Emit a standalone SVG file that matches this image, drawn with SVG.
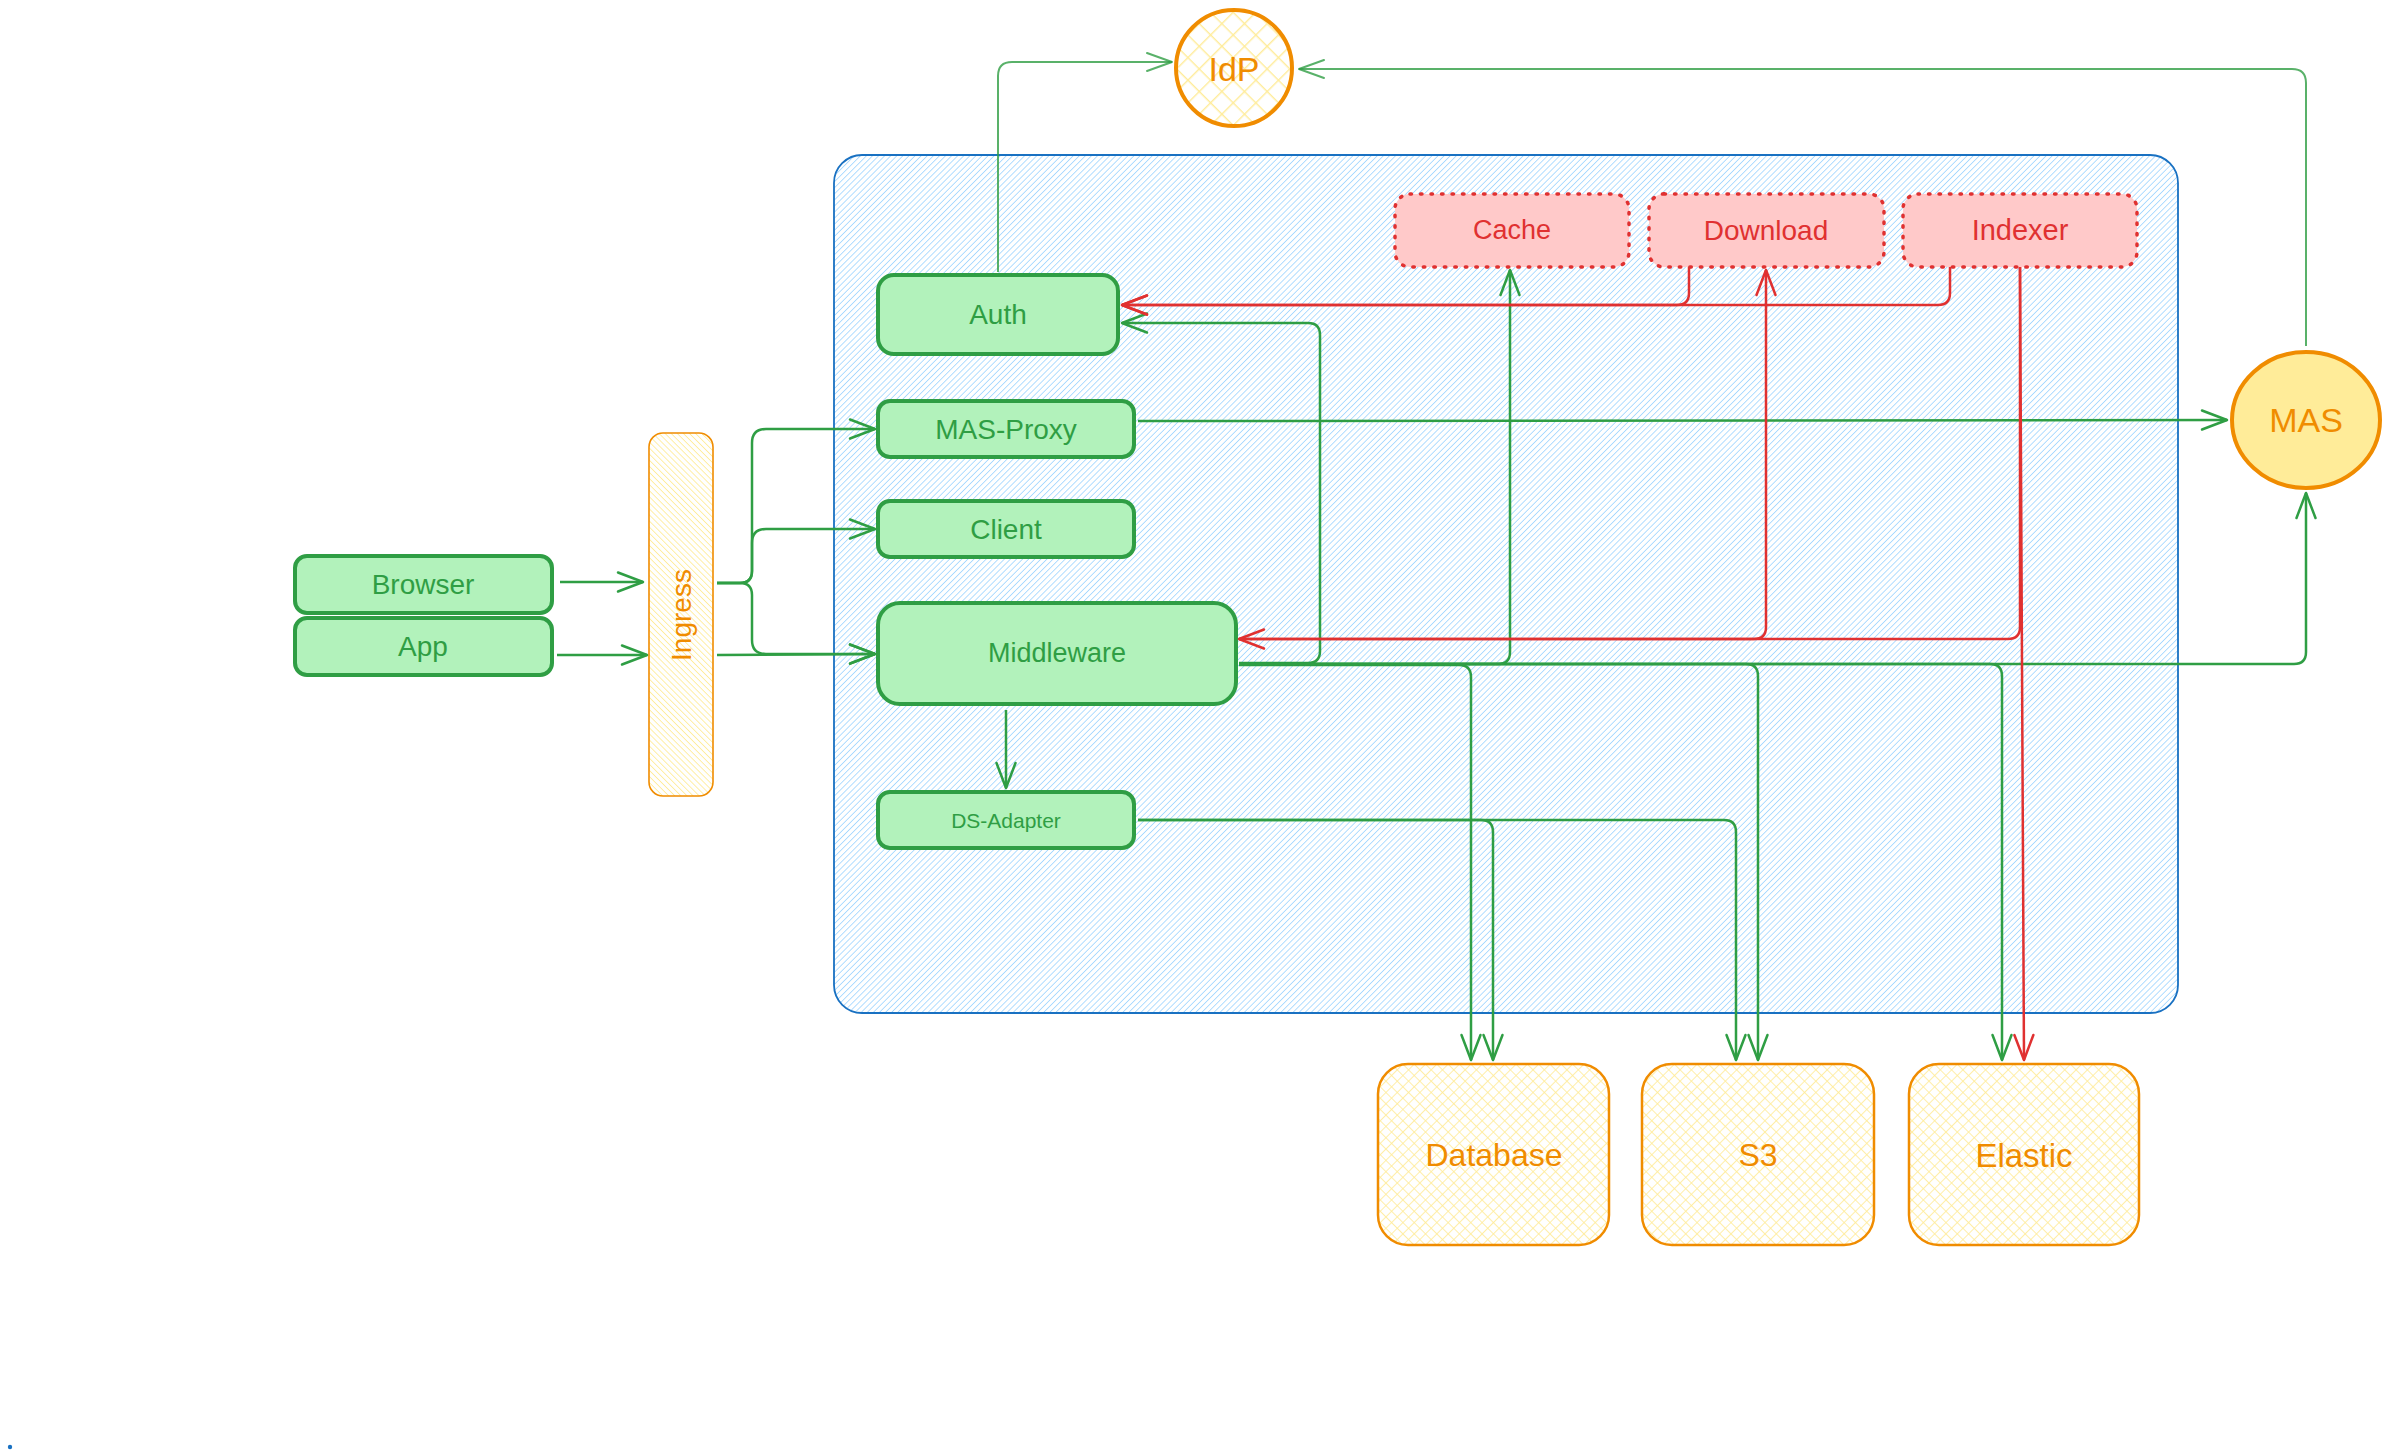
<svg xmlns="http://www.w3.org/2000/svg" width="2391" height="1456" viewBox="0 0 2391 1456">
  <defs>
    <style>
      .lbl { font-family: "Liberation Sans", Arial, sans-serif; text-anchor: middle; dominant-baseline: central; }
      .t-green { fill: #2f9e44; }
      .t-red { fill: #e03131; }
      .t-orange { fill: #f08c00; }
      .svc { fill: #b2f2bb; stroke: #2f9e44; stroke-width: 4; }
      .job { fill: #ffc9c9; stroke: #e03131; stroke-width: 3.5; stroke-dasharray: 1.5 9; stroke-linecap: round; }
      .store { fill: url(#xhatch-fine); stroke: #f08c00; stroke-width: 2.5; }
      .c-green { fill: none; stroke: #2f9e44; stroke-width: 2.5; marker-end: url(#arrow-green); }
      .c-thin { fill: none; stroke: #2f9e44; stroke-width: 2; stroke-opacity: 0.8; marker-end: url(#arrow-thin); }
      .c-red { fill: none; stroke: #e03131; stroke-width: 2.5; marker-end: url(#arrow-red); }
    </style>
    <!-- hachure fills -->
    <pattern id="hatch-blue" width="4.3" height="4.3" patternUnits="userSpaceOnUse" patternTransform="rotate(45)">
      <rect width="4.3" height="4.3" fill="#ffffff"/>
      <line x1="0" y1="0" x2="0" y2="4.3" stroke="#a5d8ff" stroke-width="1.7"/>
    </pattern>
    <pattern id="hatch-yellow" width="4.3" height="4.3" patternUnits="userSpaceOnUse" patternTransform="rotate(-45)">
      <rect width="4.3" height="4.3" fill="#ffffff"/>
      <line x1="0" y1="0" x2="0" y2="4.3" stroke="#ffec99" stroke-width="1.7"/>
    </pattern>
    <pattern id="xhatch-coarse" width="16" height="16" patternUnits="userSpaceOnUse" patternTransform="rotate(45)">
      <rect width="16" height="16" fill="#ffffff"/>
      <line x1="0" y1="0" x2="0" y2="16" stroke="#ffec99" stroke-width="2.8"/>
      <line x1="0" y1="0" x2="16" y2="0" stroke="#ffec99" stroke-width="2.8"/>
    </pattern>
    <pattern id="xhatch-fine" width="8" height="8" patternUnits="userSpaceOnUse" patternTransform="rotate(45)">
      <rect width="8" height="8" fill="#ffffff"/>
      <line x1="0" y1="0" x2="0" y2="8" stroke="#ffec99" stroke-width="1.7"/>
      <line x1="0" y1="0" x2="8" y2="0" stroke="#ffec99" stroke-width="1.7"/>
    </pattern>
    <!-- open arrowheads -->
    <marker id="arrow-green" viewBox="-30 -14 34 28" refX="0" refY="0" markerWidth="34" markerHeight="28" markerUnits="userSpaceOnUse" orient="auto">
      <path d="M-25,-9.5 L0,0 L-25,9.5" fill="none" stroke="#2f9e44" stroke-width="2.5" stroke-linecap="round" stroke-linejoin="round"/>
    </marker>
    <marker id="arrow-thin" viewBox="-30 -14 34 28" refX="0" refY="0" markerWidth="34" markerHeight="28" markerUnits="userSpaceOnUse" orient="auto">
      <path d="M-25,-9 L0,0 L-25,9" fill="none" stroke="#2f9e44" stroke-opacity="0.8" stroke-width="2" stroke-linecap="round" stroke-linejoin="round"/>
    </marker>
    <marker id="arrow-red" viewBox="-30 -14 34 28" refX="0" refY="0" markerWidth="34" markerHeight="28" markerUnits="userSpaceOnUse" orient="auto">
      <path d="M-25,-9.5 L0,0 L-25,9.5" fill="none" stroke="#e03131" stroke-width="2.5" stroke-linecap="round" stroke-linejoin="round"/>
    </marker>
  </defs>

  <rect width="2391" height="1456" fill="#ffffff"/>

  <!-- cluster boundary -->
  <g id="cluster">
    <rect x="834" y="155" width="1344" height="858" rx="28" fill="url(#hatch-blue)" stroke="#1971c2" stroke-width="1.8"/>
  </g>

  <!-- clients -->
  <g id="browser">
    <rect class="svc" x="295" y="556" width="257" height="57" rx="12"/>
    <text class="lbl t-green" x="423" y="584" font-size="28">Browser</text>
  </g>
  <g id="app">
    <rect class="svc" x="295" y="618" width="257" height="57" rx="12"/>
    <text class="lbl t-green" x="423" y="646" font-size="28">App</text>
  </g>

  <g id="ingress">
    <rect x="649" y="433" width="64" height="363" rx="14" fill="url(#hatch-yellow)" stroke="#f08c00" stroke-width="1.6"/>
    <text class="lbl t-orange" x="681" y="615" font-size="28" transform="rotate(-90 681 615)">Ingress</text>
  </g>

  <!-- services inside the cluster -->
  <g id="auth">
    <rect class="svc" x="878" y="275" width="240" height="79" rx="16"/>
    <text class="lbl t-green" x="998" y="314" font-size="28">Auth</text>
  </g>
  <g id="mas-proxy">
    <rect class="svc" x="878" y="401" width="256" height="56" rx="12"/>
    <text class="lbl t-green" x="1006" y="429" font-size="28">MAS-Proxy</text>
  </g>
  <g id="client">
    <rect class="svc" x="878" y="501" width="256" height="56" rx="12"/>
    <text class="lbl t-green" x="1006" y="529" font-size="28">Client</text>
  </g>
  <g id="middleware">
    <rect class="svc" x="878" y="603" width="358" height="101" rx="22"/>
    <text class="lbl t-green" x="1057" y="653" font-size="27">Middleware</text>
  </g>
  <g id="ds-adapter">
    <rect class="svc" x="878" y="792" width="256" height="56" rx="12"/>
    <text class="lbl t-green" x="1006" y="820" font-size="21">DS-Adapter</text>
  </g>

  <!-- background jobs -->
  <g id="cache">
    <rect class="job" x="1395" y="194" width="234" height="73" rx="15"/>
    <text class="lbl t-red" x="1512" y="230" font-size="27">Cache</text>
  </g>
  <g id="download">
    <rect class="job" x="1649" y="194" width="235" height="73" rx="15"/>
    <text class="lbl t-red" x="1766" y="230" font-size="28">Download</text>
  </g>
  <g id="indexer">
    <rect class="job" x="1903" y="194" width="234" height="73" rx="15"/>
    <text class="lbl t-red" x="2020" y="230" font-size="29">Indexer</text>
  </g>

  <!-- external identity -->
  <g id="idp">
    <circle cx="1234" cy="68" r="58" fill="url(#xhatch-coarse)" stroke="#f08c00" stroke-width="4"/>
    <text class="lbl t-orange" x="1234" y="69" font-size="34">IdP</text>
  </g>
  <g id="mas">
    <ellipse cx="2306" cy="420" rx="74" ry="68" fill="#ffec99" stroke="#f08c00" stroke-width="4"/>
    <text class="lbl t-orange" x="2306" y="420" font-size="34">MAS</text>
  </g>

  <!-- storage -->
  <g id="database">
    <rect class="store" x="1378" y="1064" width="231" height="181" rx="30"/>
    <text class="lbl t-orange" x="1494" y="1155" font-size="32">Database</text>
  </g>
  <g id="s3">
    <rect class="store" x="1642" y="1064" width="232" height="181" rx="30"/>
    <text class="lbl t-orange" x="1758" y="1155" font-size="32">S3</text>
  </g>
  <g id="elastic">
    <rect class="store" x="1909" y="1064" width="230" height="181" rx="30"/>
    <text class="lbl t-orange" x="2024" y="1155" font-size="33">Elastic</text>
  </g>

  <g id="marker-dot">
    <circle cx="10" cy="1447" r="2.2" fill="#1971c2"/>
  </g>

  <!-- connectors -->
  <g id="connectors">
    <!-- clients to ingress -->
    <path class="c-green" d="M560,582 H643"/>
    <path class="c-green" d="M557,655 H647"/>
    <!-- ingress fan-out -->
    <path class="c-green" d="M717,583 H740 Q752,583 752,571 V443 Q752,429 766,429 H875"/>
    <path class="c-green" d="M717,583 H740 Q752,583 752,571 V543 Q752,529 766,529 H875"/>
    <path class="c-green" d="M717,583 H740 Q752,583 752,595 V640 Q752,654 766,654 H875"/>
    <path class="c-green" d="M717,655 L875,654"/>

    <!-- identity provider links -->
    <path class="c-thin" d="M998,272 V76 Q998,62 1012,62 H1172"/>
    <path class="c-thin" d="M2306,346 V83 Q2306,69 2292,69 H1299"/>

    <!-- MAS-Proxy to MAS -->
    <path class="c-green" d="M1138,421 L2227,420"/>

    <!-- middleware fan-out -->
    <path class="c-green" d="M1239,663 H1308 Q1320,663 1320,651 V335 Q1320,323 1308,323 H1122"/>
    <path class="c-green" d="M1239,664 H1498 Q1510,664 1510,652 V270"/>
    <path class="c-green" d="M1239,665 H1459 Q1471,665 1471,677 V1060"/>
    <path class="c-green" d="M1239,664 H1746 Q1758,664 1758,676 V1060"/>
    <path class="c-green" d="M1239,664 H1990 Q2002,664 2002,676 V1060"/>
    <path class="c-green" d="M1239,664 H2294 Q2306,664 2306,652 V493"/>
    <path class="c-green" d="M1006,710 V788"/>

    <!-- DS-Adapter to storage -->
    <path class="c-green" d="M1138,820 H1481 Q1493,820 1493,832 V1060"/>
    <path class="c-green" d="M1138,820 H1724 Q1736,820 1736,832 V1060"/>

    <!-- job links -->
    <path class="c-red" d="M1689,267 V293 Q1689,305 1677,305 H1122"/>
    <path class="c-red" d="M1950,267 V293 Q1950,305 1938,305 H1122"/>
    <path class="c-red" d="M2020,267 V627 Q2020,639 2008,639 H1239"/>
    <path class="c-red" d="M1239,639 H1754 Q1766,639 1766,627 V270"/>
    <path class="c-red" d="M2020,267 L2024,1060"/>
  </g>
</svg>
